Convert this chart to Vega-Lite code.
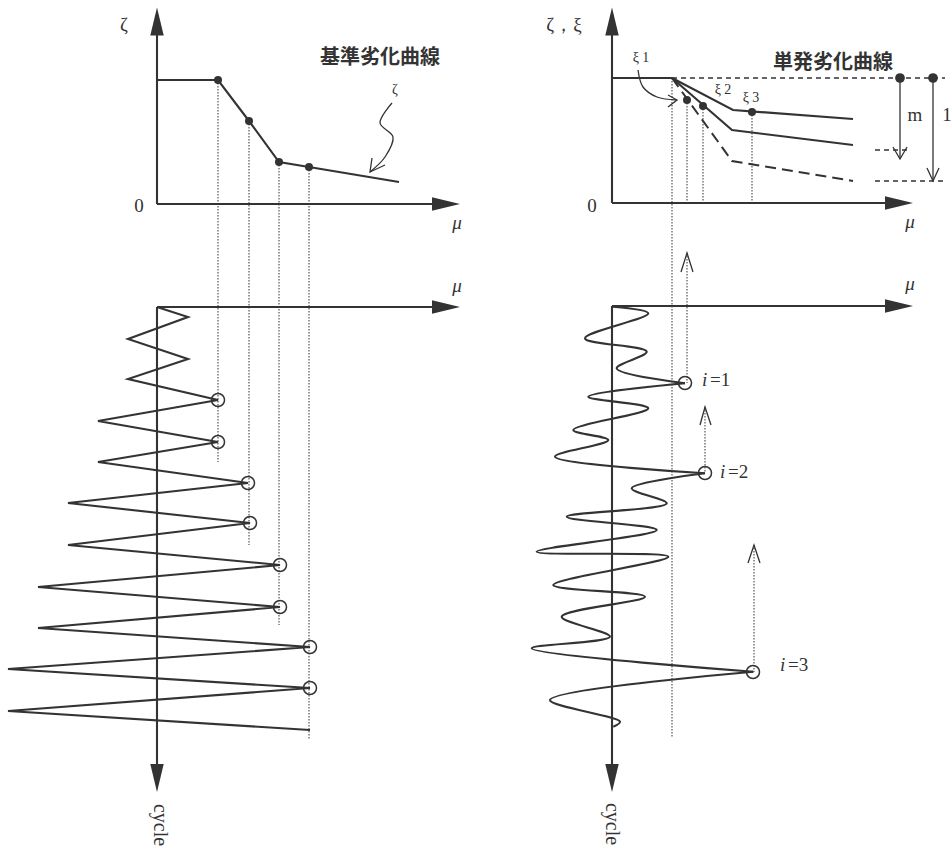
{
  "$schema": "https://vega.github.io/schema/vega-lite/v6.json",
  "width": 952,
  "height": 853,
  "padding": 0,
  "autosize": {"type": "none"},
  "background": "white",
  "config": {"view": {"stroke": null}},
  "datasets": {
    "thick": [
      {"g": "a1", "o": 0, "x": 157, "y": 30}, {"g": "a1", "o": 1, "x": 157, "y": 204},
      {"g": "a2", "o": 0, "x": 157, "y": 204}, {"g": "a2", "o": 1, "x": 440, "y": 204},
      {"g": "a3", "o": 0, "x": 157, "y": 307}, {"g": "a3", "o": 1, "x": 440, "y": 307},
      {"g": "a4", "o": 0, "x": 157, "y": 307}, {"g": "a4", "o": 1, "x": 157, "y": 770},
      {"g": "c0", "o": 0, "x": 157, "y": 80}, {"g": "c0", "o": 1, "x": 218, "y": 80},
      {"g": "c0", "o": 2, "x": 249, "y": 121}, {"g": "c0", "o": 3, "x": 279, "y": 162},
      {"g": "c0", "o": 4, "x": 309, "y": 167}, {"g": "c0", "o": 5, "x": 399, "y": 182},
      {"g": "z", "o": 0, "x": 157, "y": 307}, {"g": "z", "o": 1, "x": 188, "y": 317},
      {"g": "z", "o": 2, "x": 128, "y": 339}, {"g": "z", "o": 3, "x": 188, "y": 359},
      {"g": "z", "o": 4, "x": 128, "y": 379}, {"g": "z", "o": 5, "x": 218, "y": 400},
      {"g": "z", "o": 6, "x": 98, "y": 421}, {"g": "z", "o": 7, "x": 218, "y": 442},
      {"g": "z", "o": 8, "x": 98, "y": 462}, {"g": "z", "o": 9, "x": 248, "y": 483},
      {"g": "z", "o": 10, "x": 68, "y": 503}, {"g": "z", "o": 11, "x": 250, "y": 523},
      {"g": "z", "o": 12, "x": 68, "y": 545}, {"g": "z", "o": 13, "x": 280, "y": 565},
      {"g": "z", "o": 14, "x": 38, "y": 587}, {"g": "z", "o": 15, "x": 280, "y": 607},
      {"g": "z", "o": 16, "x": 38, "y": 628}, {"g": "z", "o": 17, "x": 310, "y": 647},
      {"g": "z", "o": 18, "x": 8, "y": 669}, {"g": "z", "o": 19, "x": 310, "y": 688},
      {"g": "z", "o": 20, "x": 8, "y": 711}, {"g": "z", "o": 21, "x": 310, "y": 730},
      {"g": "b1", "o": 0, "x": 612, "y": 30}, {"g": "b1", "o": 1, "x": 612, "y": 203},
      {"g": "b2", "o": 0, "x": 612, "y": 203}, {"g": "b2", "o": 1, "x": 892, "y": 203},
      {"g": "b3", "o": 0, "x": 612, "y": 306}, {"g": "b3", "o": 1, "x": 892, "y": 306},
      {"g": "b4", "o": 0, "x": 612, "y": 306}, {"g": "b4", "o": 1, "x": 612, "y": 770},
      {"g": "r0", "o": 0, "x": 612, "y": 78}, {"g": "r0", "o": 1, "x": 672, "y": 78},
      {"g": "r1", "o": 0, "x": 672, "y": 78}, {"g": "r1", "o": 1, "x": 733, "y": 110}, {"g": "r1", "o": 2, "x": 853, "y": 119},
      {"g": "r2", "o": 0, "x": 672, "y": 78}, {"g": "r2", "o": 1, "x": 732, "y": 130}, {"g": "r2", "o": 2, "x": 853, "y": 145}
    ],
    "thin": [
      {"g": "m", "o": 0, "x": 900, "y": 78}, {"g": "m", "o": 1, "x": 900, "y": 159},
      {"g": "l", "o": 0, "x": 933, "y": 78}, {"g": "l", "o": 1, "x": 933, "y": 181},
      {"g": "v1", "o": 0, "x": 893, "y": 147}, {"g": "v1", "o": 1, "x": 900, "y": 159}, {"g": "v1", "o": 2, "x": 907, "y": 147},
      {"g": "v2", "o": 0, "x": 927, "y": 168}, {"g": "v2", "o": 1, "x": 933, "y": 181}, {"g": "v2", "o": 2, "x": 939, "y": 168},
      {"g": "v3", "o": 0, "x": 681, "y": 272}, {"g": "v3", "o": 1, "x": 687, "y": 253}, {"g": "v3", "o": 2, "x": 693, "y": 272},
      {"g": "v4", "o": 0, "x": 700, "y": 425}, {"g": "v4", "o": 1, "x": 705, "y": 407}, {"g": "v4", "o": 2, "x": 711, "y": 425},
      {"g": "v5", "o": 0, "x": 748, "y": 563}, {"g": "v5", "o": 1, "x": 754, "y": 545}, {"g": "v5", "o": 2, "x": 760, "y": 563},
      {"g": "v6", "o": 0, "x": 372, "y": 158}, {"g": "v6", "o": 1, "x": 370, "y": 172}, {"g": "v6", "o": 2, "x": 385, "y": 165},
      {"g": "v7", "o": 0, "x": 668, "y": 95}, {"g": "v7", "o": 1, "x": 677, "y": 100}, {"g": "v7", "o": 2, "x": 668, "y": 107}
    ],
    "curly": [
      {"g": "s1", "o": 0, "x": 392, "y": 103}, {"g": "s1", "o": 1, "x": 380, "y": 123},
      {"g": "s1", "o": 2, "x": 393, "y": 137}, {"g": "s1", "o": 3, "x": 385, "y": 157},
      {"g": "s1", "o": 4, "x": 370, "y": 172},
      {"g": "s2", "o": 0, "x": 638, "y": 70}, {"g": "s2", "o": 1, "x": 643, "y": 87},
      {"g": "s2", "o": 2, "x": 657, "y": 97}, {"g": "s2", "o": 3, "x": 677, "y": 100}
    ],
    "wave": [
      {"g": "w1", "o": 0, "x": 612.7, "y": 306.7}, {"g": "w1", "o": 1, "x": 648.3, "y": 313.3},
      {"g": "w1", "o": 2, "x": 585, "y": 338.3}, {"g": "w1", "o": 3, "x": 646.7, "y": 351.7},
      {"g": "w1", "o": 4, "x": 616.7, "y": 368.3}, {"g": "w1", "o": 5, "x": 685, "y": 383.3},
      {"g": "w2", "o": 0, "x": 685, "y": 383.3}, {"g": "w2", "o": 1, "x": 588.3, "y": 396.7},
      {"g": "w2", "o": 2, "x": 648.3, "y": 408.3}, {"g": "w2", "o": 3, "x": 573.3, "y": 430},
      {"g": "w2", "o": 4, "x": 608.3, "y": 440}, {"g": "w2", "o": 5, "x": 555, "y": 456.7},
      {"g": "w2", "o": 6, "x": 705, "y": 473.3},
      {"g": "w3", "o": 0, "x": 705, "y": 473.3}, {"g": "w3", "o": 1, "x": 631.7, "y": 488.3},
      {"g": "w3", "o": 2, "x": 666.7, "y": 503.3}, {"g": "w3", "o": 3, "x": 566.7, "y": 516.7},
      {"g": "w3", "o": 4, "x": 656.7, "y": 530}, {"g": "w3", "o": 5, "x": 536.7, "y": 551.7},
      {"g": "w3", "o": 6, "x": 668.3, "y": 556.7}, {"g": "w3", "o": 7, "x": 553.3, "y": 585},
      {"g": "w3", "o": 8, "x": 645, "y": 596.7}, {"g": "w3", "o": 9, "x": 561.7, "y": 616.7},
      {"g": "w3", "o": 10, "x": 610, "y": 636.7}, {"g": "w3", "o": 11, "x": 531.7, "y": 648.3},
      {"g": "w3", "o": 12, "x": 753.3, "y": 671.7},
      {"g": "w4", "o": 0, "x": 753.3, "y": 671.7}, {"g": "w4", "o": 1, "x": 550, "y": 700},
      {"g": "w4", "o": 2, "x": 620, "y": 721.7}, {"g": "w4", "o": 3, "x": 613.3, "y": 726.7}
    ],
    "dotted": [
      {"g": "d1", "o": 0, "x": 218, "y": 80}, {"g": "d1", "o": 1, "x": 218, "y": 462},
      {"g": "d2", "o": 0, "x": 249, "y": 121}, {"g": "d2", "o": 1, "x": 249, "y": 545},
      {"g": "d3", "o": 0, "x": 279, "y": 162}, {"g": "d3", "o": 1, "x": 279, "y": 625},
      {"g": "d4", "o": 0, "x": 309, "y": 167}, {"g": "d4", "o": 1, "x": 309, "y": 740},
      {"g": "e1", "o": 0, "x": 672, "y": 78}, {"g": "e1", "o": 1, "x": 672, "y": 737},
      {"g": "e2", "o": 0, "x": 687, "y": 100}, {"g": "e2", "o": 1, "x": 687, "y": 203},
      {"g": "e3", "o": 0, "x": 703, "y": 106}, {"g": "e3", "o": 1, "x": 703, "y": 203},
      {"g": "e4", "o": 0, "x": 752, "y": 112}, {"g": "e4", "o": 1, "x": 752, "y": 203},
      {"g": "e5", "o": 0, "x": 687, "y": 253}, {"g": "e5", "o": 1, "x": 687, "y": 383},
      {"g": "e6", "o": 0, "x": 705, "y": 407}, {"g": "e6", "o": 1, "x": 705, "y": 473},
      {"g": "e7", "o": 0, "x": 754, "y": 545}, {"g": "e7", "o": 1, "x": 754, "y": 672}
    ],
    "dashS": [
      {"g": "p1", "o": 0, "x": 672, "y": 78}, {"g": "p1", "o": 1, "x": 945, "y": 78},
      {"g": "p2", "o": 0, "x": 875, "y": 150}, {"g": "p2", "o": 1, "x": 911, "y": 150},
      {"g": "p3", "o": 0, "x": 875, "y": 181}, {"g": "p3", "o": 1, "x": 945, "y": 181}
    ],
    "dashL": [
      {"g": "r3", "o": 0, "x": 672, "y": 78}, {"g": "r3", "o": 1, "x": 732, "y": 161}, {"g": "r3", "o": 2, "x": 853, "y": 181}
    ],
    "heads": [
      {"x": 157, "y": 21.5, "dir": "up"}, {"x": 612, "y": 21.5, "dir": "up"},
      {"x": 446, "y": 204, "dir": "right"}, {"x": 446, "y": 307, "dir": "right"},
      {"x": 899, "y": 203, "dir": "right"}, {"x": 899, "y": 306, "dir": "right"},
      {"x": 157, "y": 778, "dir": "down"}, {"x": 612, "y": 778, "dir": "down"}
    ],
    "dots": [
      {"x": 218, "y": 80}, {"x": 249, "y": 121}, {"x": 279, "y": 162}, {"x": 309, "y": 167},
      {"x": 687, "y": 100}, {"x": 703, "y": 106}, {"x": 752, "y": 112}
    ],
    "bigdots": [{"x": 900, "y": 78}, {"x": 933, "y": 78}],
    "rings": [
      {"x": 218, "y": 400}, {"x": 218, "y": 442}, {"x": 248, "y": 483}, {"x": 250, "y": 523},
      {"x": 280, "y": 565}, {"x": 280, "y": 607}, {"x": 310, "y": 647}, {"x": 310, "y": 688},
      {"x": 685, "y": 383}, {"x": 705, "y": 473}, {"x": 753, "y": 672}
    ],
    "texts": [
      {"t": "基準劣化曲線", "x": 380, "y": 58, "k": "cjk"},
      {"t": "単発劣化曲線", "x": 833, "y": 63, "k": "cjk"},
      {"t": "ζ", "x": 124, "y": 25, "k": "ser"},
      {"t": "0", "x": 139, "y": 206, "k": "ser"},
      {"t": "0", "x": 592, "y": 206, "k": "ser"},
      {"t": "ζ，ξ", "x": 564, "y": 25, "k": "ser"},
      {"t": "m", "x": 915, "y": 115, "k": "ser"},
      {"t": "1", "x": 947, "y": 115, "k": "ser"},
      {"t": "ζ", "x": 395, "y": 90, "k": "sers"},
      {"t": "ξ 1", "x": 641, "y": 58, "k": "sers"},
      {"t": "ξ 2", "x": 723, "y": 90, "k": "sers"},
      {"t": "ξ 3", "x": 751, "y": 98, "k": "sers"},
      {"t": "μ", "x": 457, "y": 223, "k": "ita"},
      {"t": "μ", "x": 457, "y": 286, "k": "ita"},
      {"t": "μ", "x": 910, "y": 222, "k": "ita"},
      {"t": "μ", "x": 910, "y": 284, "k": "ita"},
      {"t": "i", "x": 702, "y": 380, "k": "iL"},
      {"t": "=1", "x": 710, "y": 380, "k": "eqL"},
      {"t": "i", "x": 720, "y": 472, "k": "iL"},
      {"t": "=2", "x": 728, "y": 472, "k": "eqL"},
      {"t": "i", "x": 780, "y": 665, "k": "iL"},
      {"t": "=3", "x": 788, "y": 665, "k": "eqL"},
      {"t": "cycle", "x": 160, "y": 825, "k": "cyc"},
      {"t": "cycle", "x": 612, "y": 824, "k": "cyc"}
    ]
  },
  "encoding": {
    "x": {"field": "x", "type": "quantitative", "scale": {"domain": [0, 952], "nice": false, "zero": false}, "axis": null},
    "y": {"field": "y", "type": "quantitative", "scale": {"domain": [0, 853], "reverse": true, "nice": false, "zero": false}, "axis": null}
  },
  "layer": [
    {
      "data": {"name": "dotted"},
      "mark": {"type": "line", "color": "#555", "strokeWidth": 1.2, "strokeDash": [1.5, 1.5]},
      "encoding": {"detail": {"field": "g"}, "order": {"field": "o"}}
    },
    {
      "data": {"name": "dashS"},
      "mark": {"type": "line", "color": "#333", "strokeWidth": 1.3, "strokeDash": [5, 4]},
      "encoding": {"detail": {"field": "g"}, "order": {"field": "o"}}
    },
    {
      "data": {"name": "dashL"},
      "mark": {"type": "line", "color": "#333", "strokeWidth": 2, "strokeDash": [11, 6]},
      "encoding": {"detail": {"field": "g"}, "order": {"field": "o"}}
    },
    {
      "data": {"name": "thick"},
      "mark": {"type": "line", "color": "#333", "strokeWidth": 2.1},
      "encoding": {"detail": {"field": "g"}, "order": {"field": "o"}}
    },
    {
      "data": {"name": "thin"},
      "mark": {"type": "line", "color": "#333", "strokeWidth": 1.3},
      "encoding": {"detail": {"field": "g"}, "order": {"field": "o"}}
    },
    {
      "data": {"name": "curly"},
      "mark": {"type": "line", "color": "#333", "strokeWidth": 1.3, "interpolate": "catmull-rom"},
      "encoding": {"detail": {"field": "g"}, "order": {"field": "o"}}
    },
    {
      "data": {"name": "wave"},
      "mark": {"type": "line", "color": "#333", "strokeWidth": 2.1, "interpolate": "catmull-rom"},
      "encoding": {"detail": {"field": "g"}, "order": {"field": "o"}}
    },
    {
      "data": {"name": "heads"},
      "transform": [{"filter": "datum.dir === 'up'"}],
      "mark": {"type": "point", "shape": "M 0 -1 L 0.48 1 L -0.48 1 Z", "size": 784, "filled": true, "color": "#333", "opacity": 1, "strokeWidth": 0}
    },
    {
      "data": {"name": "heads"},
      "transform": [{"filter": "datum.dir === 'right'"}],
      "mark": {"type": "point", "shape": "M 1 0 L -1 0.48 L -1 -0.48 Z", "size": 784, "filled": true, "color": "#333", "opacity": 1, "strokeWidth": 0}
    },
    {
      "data": {"name": "heads"},
      "transform": [{"filter": "datum.dir === 'down'"}],
      "mark": {"type": "point", "shape": "M 0 1 L 0.48 -1 L -0.48 -1 Z", "size": 784, "filled": true, "color": "#333", "opacity": 1, "strokeWidth": 0}
    },
    {
      "data": {"name": "dots"},
      "mark": {"type": "circle", "size": 64, "color": "#333", "opacity": 1}
    },
    {
      "data": {"name": "bigdots"},
      "mark": {"type": "circle", "size": 95, "color": "#333", "opacity": 1}
    },
    {
      "data": {"name": "rings"},
      "mark": {"type": "point", "shape": "circle", "size": 170, "filled": false, "color": "#333", "strokeWidth": 1.5, "opacity": 1}
    },
    {
      "data": {"name": "texts"},
      "transform": [{"filter": "datum.k === 'cjk'"}],
      "mark": {"type": "text", "font": "Noto Sans CJK JP", "fontWeight": "bold", "fontSize": 20, "color": "#333", "align": "center", "baseline": "middle"},
      "encoding": {"text": {"field": "t"}}
    },
    {
      "data": {"name": "texts"},
      "transform": [{"filter": "datum.k === 'ser'"}],
      "mark": {"type": "text", "font": "Liberation Serif", "fontSize": 19, "color": "#333", "align": "center", "baseline": "middle"},
      "encoding": {"text": {"field": "t"}}
    },
    {
      "data": {"name": "texts"},
      "transform": [{"filter": "datum.k === 'sers'"}],
      "mark": {"type": "text", "font": "Liberation Serif", "fontSize": 14, "color": "#333", "align": "center", "baseline": "middle"},
      "encoding": {"text": {"field": "t"}}
    },
    {
      "data": {"name": "texts"},
      "transform": [{"filter": "datum.k === 'ita'"}],
      "mark": {"type": "text", "font": "Liberation Serif", "fontStyle": "italic", "fontSize": 19, "color": "#333", "align": "center", "baseline": "middle"},
      "encoding": {"text": {"field": "t"}}
    },
    {
      "data": {"name": "texts"},
      "transform": [{"filter": "datum.k === 'iL'"}],
      "mark": {"type": "text", "font": "Liberation Serif", "fontStyle": "italic", "fontSize": 19, "color": "#333", "align": "left", "baseline": "middle"},
      "encoding": {"text": {"field": "t"}}
    },
    {
      "data": {"name": "texts"},
      "transform": [{"filter": "datum.k === 'eqL'"}],
      "mark": {"type": "text", "font": "Liberation Serif", "fontSize": 19, "color": "#333", "align": "left", "baseline": "middle"},
      "encoding": {"text": {"field": "t"}}
    },
    {
      "data": {"name": "texts"},
      "transform": [{"filter": "datum.k === 'cyc'"}],
      "mark": {"type": "text", "font": "Liberation Serif", "fontSize": 20, "color": "#333", "align": "center", "baseline": "middle", "angle": 90},
      "encoding": {"text": {"field": "t"}}
    }
  ]
}
